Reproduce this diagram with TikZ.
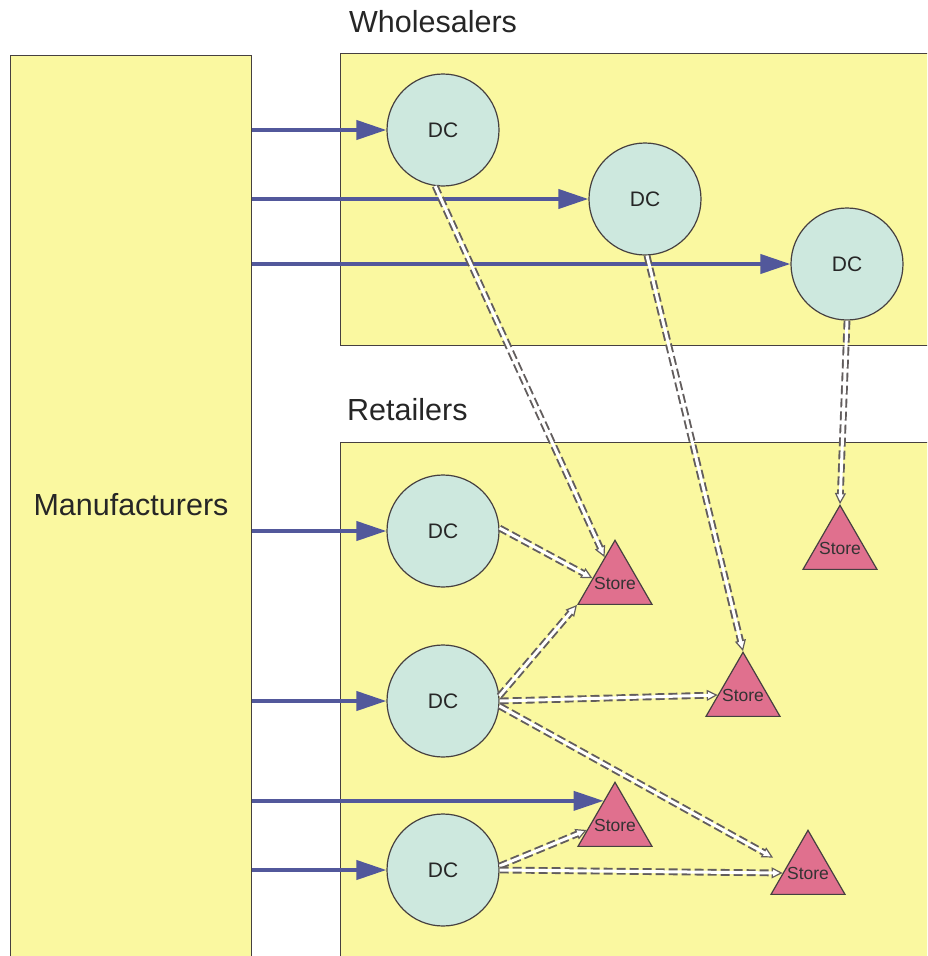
\documentclass[tikz,border=0pt]{standalone}
\usepackage{fontspec}
\setmainfont{Liberation Sans}
\usetikzlibrary{arrows.meta,shapes.geometric,calc}

\definecolor{paneyellow}{RGB}{250,248,160}
\definecolor{dcfill}{RGB}{205,232,222}
\definecolor{storefill}{RGB}{224,112,142}
\definecolor{flowblue}{RGB}{82,88,155}
\definecolor{edgegray}{RGB}{70,64,64}

\begin{document}
\begin{tikzpicture}[x=1pt,y=-1pt,
  pane/.style={rectangle, draw=edgegray, line width=1.2pt, fill=paneyellow, inner sep=0pt, anchor=north west},
  title/.style={font=\fontsize{30.5}{36}\selectfont, text=black!85, inner sep=0pt},
  dc/.style={circle, draw=edgegray, line width=1.2pt, fill=dcfill, minimum size=112pt, inner sep=0pt,
    font=\fontsize{21}{25}\selectfont, text=black!85},
  store/.style={regular polygon, regular polygon sides=3, draw=edgegray, line width=1.2pt, fill=storefill,
    minimum size=85.4pt, inner sep=0pt,
    label={[font=\fontsize{17.5}{20}\selectfont, text=black!80, inner sep=0pt]center:Store}},
  supply/.style={draw=flowblue, line width=4pt, -{Triangle[length=30pt,width=19pt]}},
  transfer/.style={draw=edgegray!85, line width=6.8pt, dash pattern=on 9pt off 4pt,
    -{Triangle[fill=white, length=11pt, width=11pt, line width=1.2pt]},
    postaction={draw=white, line width=3pt, solid, arrows=-, shorten >=9pt}}
]
\clip (0,0) rectangle (927,956);

% tiers
\node[pane, minimum width=241pt, minimum height=910pt] (mfr) at (10,55) {};
\node[pane, minimum width=600pt, minimum height=292pt] (wpane) at (340,53) {};
\node[pane, minimum width=600pt, minimum height=530pt] (rpane) at (340,442) {};

\node[title] at (131,505) {Manufacturers};
\node[title, anchor=west] at (349,22) {Wholesalers};
\node[title, anchor=west] at (347,410) {Retailers};

% distribution centres
\node[dc] (w1) at (443,130) {DC};
\node[dc] (w2) at (645,199) {DC};
\node[dc] (w3) at (847,264) {DC};
\node[dc] (r1) at (443,531) {DC};
\node[dc] (r2) at (443,701) {DC};
\node[dc] (r3) at (443,870) {DC};

% stores
\node[store] (s1) at (615,583) {};
\node[store] (s2) at (840,548) {};
\node[store] (s3) at (743,695) {};
\node[store] (s4) at (615,825) {};
\node[store] (s5) at (808,873) {};

% shipments from manufacturers
\draw[supply] (w1.west -| mfr.east) -- (w1.west);
\draw[supply] (w2.west -| mfr.east) -- (w2.west);
\draw[supply] (w3.west -| mfr.east) -- (w3.west);
\draw[supply] (r1.west -| mfr.east) -- (r1.west);
\draw[supply] (r2.west -| mfr.east) -- (r2.west);
\draw[supply] (r3.west -| mfr.east) -- (r3.west);
\coordinate (s4in) at ($(s4.corner 1)!0.3!(s4.corner 2)$);
\draw[supply] (s4in -| mfr.east) -- (s4in);

% transfers to stores
\draw[transfer] (w1.262) -- (s1.112);
\draw[transfer] (w2.272) -- (s3.corner 1);
\draw[transfer] (w3.270) -- (s2.corner 1);
\draw[transfer] (r1.3) -- (s1.168);
\draw[transfer] (r2.5) -- (s1.corner 2);
\draw[transfer] (r2.0) -- (s3.180);
\coordinate (s5near) at ($(s5.160)!16pt!(r2.-5)$);
\draw[transfer] (r2.-5) -- (s5near);
\draw[transfer] (r3.4) -- (s4.190);
\draw[transfer] (r3.0) -- (s5.180);
\end{tikzpicture}
\end{document}
